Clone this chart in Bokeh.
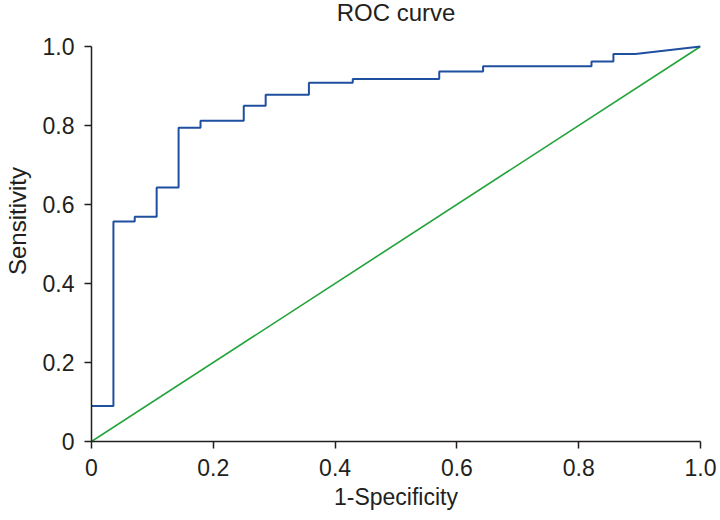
from bokeh.plotting import figure
from bokeh.models import Range1d, FixedTicker, Label
from bokeh.embed import file_html
from bokeh.resources import INLINE

# ROC step vertices (1-specificity, sensitivity)
fpr_steps = [0.0, 0.036, 0.071, 0.107, 0.143, 0.179, 0.250, 0.286, 0.357, 0.429, 0.571, 0.643, 0.821, 0.857, 0.893]
tpr_steps = [0.090, 0.557, 0.569, 0.643, 0.794, 0.812, 0.850, 0.878, 0.908, 0.918, 0.937, 0.950, 0.962, 0.981]
end_point = (1.0, 1.0)
ref_x = [0.0, 1.0]
ref_y = [0.0, 1.0]
tick_values = [0, 0.2, 0.4, 0.6, 0.8, 1.0]
tick_labels = ["0", "0.2", "0.4", "0.6", "0.8", "1.0"]
title_text = "ROC curve"

# build step path
xs, ys = [], []
for i, yv in enumerate(tpr_steps):
    xs.append(fpr_steps[i]); ys.append(yv)
    xs.append(fpr_steps[i + 1]); ys.append(yv)
xs.append(end_point[0]); ys.append(end_point[1])

FONT = "Liberation Sans"
INK = "#231f20"

# frame spans the full height above the x axis; headroom above 1.0 holds the title
TOP_PAD = 46 / 395.0
p = figure(width=720, height=520, output_backend="svg", toolbar_location=None,
           x_range=Range1d(0, 1), y_range=Range1d(0, 1 + TOP_PAD),
           min_border_left=91, min_border_right=20, min_border_top=0, min_border_bottom=79)
p.outline_line_color = None
p.xgrid.visible = False
p.ygrid.visible = False

p.line(ref_x, ref_y, line_color="#22a33a", line_width=1.6)
p.line(xs, ys, line_color="#1f4f9f", line_width=2)

p.add_layout(Label(x=0.5, y=1.0, y_offset=34, text=title_text, text_align="center",
                   text_baseline="middle", text_font=FONT, text_font_size="24px",
                   text_color=INK))

for ax in (p.xaxis[0], p.yaxis[0]):
    ax.ticker = FixedTicker(ticks=tick_values)
    ax.major_label_overrides = {v: l for v, l in zip(tick_values, tick_labels)}
    ax.minor_tick_line_color = None
    ax.major_tick_out = 7
    ax.major_tick_in = 0
    ax.axis_line_color = INK
    ax.axis_line_width = 1.5
    ax.major_tick_line_color = INK
    ax.major_tick_line_width = 1.5
    ax.major_label_text_font = FONT
    ax.major_label_text_font_size = "23px"
    ax.major_label_text_color = INK
    ax.axis_label_text_font = FONT
    ax.axis_label_text_font_style = "normal"
    ax.axis_label_text_color = INK

p.yaxis.bounds = (0, 1)
p.xaxis.axis_label = "1-Specificity"
p.yaxis.axis_label = "Sensitivity"
p.xaxis.axis_label_text_font_size = "23px"
p.yaxis.axis_label_text_font_size = "24px"
p.xaxis.major_label_standoff = 10
p.yaxis.major_label_standoff = 10
p.xaxis.axis_label_standoff = 5
p.yaxis.axis_label_standoff = 9

open("out.html", "w").write(file_html(p, INLINE))
